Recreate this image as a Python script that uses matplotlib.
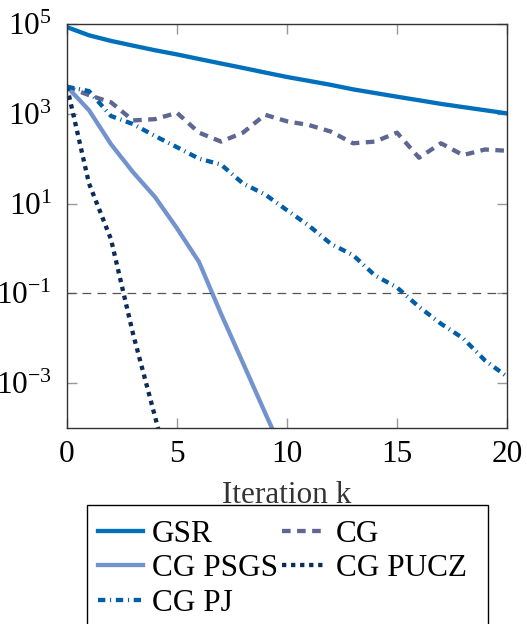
import matplotlib
matplotlib.use('Agg')
import matplotlib.pyplot as plt
from matplotlib.patches import Rectangle
from matplotlib.ticker import FixedLocator, LogFormatterSciNotation

# values (residual per iteration)
iters = list(range(21))
gsr = [8.5e4, 5.6e4, 4.2e4, 3.3e4, 2.6e4, 2.1e4, 1.66e4, 1.32e4, 1.05e4, 8.3e3,
       6.6e3, 5.4e3, 4.4e3, 3.5e3, 2.9e3, 2.4e3, 2.0e3, 1.66e3, 1.41e3, 1.2e3, 1.02e3]
cg = [4.0e3, 2.6e3, 1.8e3, 7.1e2, 7.6e2, 1.05e3, 3.8e2, 2.4e2, 3.8e2, 9.5e2,
      6.8e2, 5.6e2, 4.0e2, 2.2e2, 2.4e2, 3.8e2, 1.05e2, 2.2e2, 1.2e2, 1.6e2, 1.5e2]
cg_pj = [4.0e3, 3.2e3, 8.9e2, 5.9e2, 3.2e2, 1.8e2, 1.0e2, 74, 28, 16,
         7.1, 3.2, 1.26, 0.71, 0.25, 0.135, 0.05, 0.021, 0.01, 3.2e-3, 1.4e-3]
cg_psgs = [4.0e3, 1.2e3, 2.1e2, 50, 14, 2.8, 0.5, 0.035, 2.8e-3, 2.2e-4, 1.8e-5]
cg_pucz = [4.0e3, 28, 1.6, 0.0126, 1.8e-4, 2.5e-6]

y_ticks = [1e-3, 1e-1, 1e1, 1e3, 1e5]
x_ticks = [0, 5, 10, 15, 20]
threshold = 1e-1

plt.rcParams['font.family'] = ['Liberation Serif', 'DejaVu Serif']
plt.rcParams['mathtext.fontset'] = 'stix'
plt.rcParams['font.size'] = 22.5

W, H = 527, 624
fig = plt.figure(figsize=(W / 100, H / 100), dpi=100)
ax = fig.add_axes([67 / W, 1 - 428 / H, 440 / W, 404 / H])

lw = 3.1
l_gsr, = ax.plot(iters, gsr, color='#0070bc', lw=lw, label='GSR')
l_cg, = ax.plot(iters, cg, color='#5e6791', lw=lw, dashes=(2.0, 1.5), label='CG')
l_psgs, = ax.plot(iters[:len(cg_psgs)], cg_psgs, color='#7393cf', lw=lw, label='CG PSGS')
l_pucz, = ax.plot(iters[:len(cg_pucz)], cg_pucz, color='#0d2b57', lw=lw,
                  dashes=(1.0, 1.1), label='CG PUCZ')
l_pj, = ax.plot(iters, cg_pj, color='#005ea8', lw=lw, dashes=(1.7, 1.1, 0.25, 1.1),
                label='CG PJ')

ax.axhline(threshold, color='#555555', lw=0.9, dashes=(7, 5))

ax.set_yscale('log')
ax.set_xlim(0, 20)
ax.set_ylim(1e-4, 1e5)
ax.yaxis.set_major_locator(FixedLocator(y_ticks))
ax.yaxis.set_major_formatter(LogFormatterSciNotation())
ax.yaxis.set_minor_locator(FixedLocator([]))
ax.xaxis.set_major_locator(FixedLocator(x_ticks))

ax.tick_params(direction='in', length=7, width=1, color='#999999',
               top=True, right=True)
ax.tick_params(axis='y', pad=11)
ax.tick_params(axis='x', pad=9)
for s in ax.spines.values():
    s.set_color('#333333')
    s.set_linewidth(1)

ax.set_xlabel('Iteration k', color='#333333', labelpad=8)

# legend frame runs off the bottom of the figure, as in the original
fig.patches.append(Rectangle((87 / W, -0.1), (488 - 87) / W, 1 - 505 / H + 0.1,
                             transform=fig.transFigure, fill=False,
                             edgecolor='black', lw=1))

handles = [l_gsr, l_psgs, l_pj, l_cg, l_pucz]
fig.legend(handles=handles, labels=[h.get_label() for h in handles], ncol=2,
           loc='upper left', bbox_to_anchor=(98 / W, 1 - 520 / H),
           frameon=False, handlelength=1.44, handletextpad=0.29,
           columnspacing=0.12, labelspacing=0.17, borderpad=0, borderaxespad=0)

fig.savefig('out.png', dpi=100)
